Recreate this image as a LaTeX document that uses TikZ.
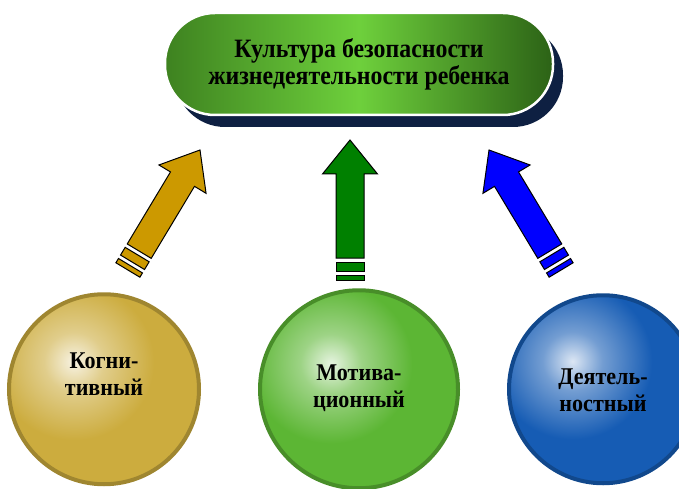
\documentclass[tikz,border=0pt]{standalone}
\usepackage{fontspec}
\setmainfont{Liberation Serif}
\newfontfamily\titlefont{Liberation Serif Bold}[FakeStretch=0.9]
\newfontfamily\labelfont{Liberation Serif Bold}[FakeStretch=0.92]
\usetikzlibrary{positioning, shadows}

\definecolor{capleft}{RGB}{62,130,32}
\definecolor{capmid}{RGB}{110,208,60}
\definecolor{capright}{RGB}{44,98,22}
\definecolor{navyshadow}{RGB}{14,32,66}
\definecolor{arrgold}{RGB}{204,153,0}
\definecolor{arrgreen}{RGB}{0,128,0}
\definecolor{arrblue}{RGB}{0,0,255}
\definecolor{ballgold}{RGB}{204,172,62}
\definecolor{ballgreen}{RGB}{92,182,52}
\definecolor{ballblue}{RGB}{22,92,180}

% soft highlight on the balls
\colorlet{glowin}{white}
\colorlet{glowmid}{white}
\colorlet{glowout}{white}
\pgfdeclareradialshading[glowin,glowmid,glowout]{glow}{\pgfpoint{0bp}{0bp}}{%
    color(0bp)=(glowin); color(6bp)=(glowmid); color(16bp)=(glowout); color(50bp)=(glowout)}

\tikzset{
    capsule/.style={rectangle, rounded corners=50pt, minimum width=388pt, minimum height=102pt,
        left color=capleft, right color=capright, middle color=capmid,
        draw=white, line width=2.5pt,
        drop shadow={shadow xshift=10pt, shadow yshift=-12pt, fill=navyshadow, opacity=1},
        font=\titlefont\fontsize{26.5}{27}\selectfont, align=center},
    ball/.style={circle, inner sep=0pt, fill=#1, draw=#1!78!black, line width=4pt,
        path picture={\colorlet{glowin}{white!85!#1}\colorlet{glowmid}{white!40!#1}\colorlet{glowout}{#1}%
            \shade[shading=glow] ([xshift=-35pt, yshift=30pt]path picture bounding box.center) circle (120pt);}},
    balltext/.style={font=\labelfont\fontsize{24}{27}\selectfont, align=center},
    blockarrow/.style={draw=black, line width=1pt, line join=miter}
}

% striped block arrow: tip, angle, colour
\newcommand{\stripedarrow}[3]{%
    \begin{scope}[shift={#1}, rotate=#2]
        \draw[blockarrow, fill=#3] (0,0) -- (-34,27.5) -- (-34,14) -- (-118,14)
            -- (-118,-14) -- (-34,-14) -- (-34,-27.5) -- cycle;
        \draw[blockarrow, fill=#3] (-122,14) rectangle (-131,-14);
        \draw[blockarrow, fill=#3] (-135,14) rectangle (-140,-14);
    \end{scope}}

\begin{document}
\begin{tikzpicture}[x=1pt, y=1pt]

    \useasboundingbox (0,0) rectangle (679,488);

    % Top block
    \node (C) [capsule] at (359,424) {Культура безопасности\\жизнедеятельности ребенка};

    % Three components
    \node (M) [ball=ballgreen, minimum size=198pt, below=172pt of C] {};
    \node (K) [ball=ballgold, minimum size=190pt, left=57pt of M] {};
    \node (D) [ball=ballblue, minimum size=188pt, right=47pt of M] {};

    \node (Kt) [balltext] at ([yshift=15pt]K.center) {Когни-\\тивный};
    \node (Mt) [balltext] at ([yshift=1pt]M.center) {Мотива-\\ционный};
    \node (Dt) [balltext] at ([yshift=-1pt]D.center) {Деятель-\\ностный};

    % Arrows up to the top block
    \stripedarrow{(200,338)}{59}{arrgold}
    \stripedarrow{(350,348)}{90}{arrgreen}
    \stripedarrow{(489,338)}{121}{arrblue}

\end{tikzpicture}
\end{document}
